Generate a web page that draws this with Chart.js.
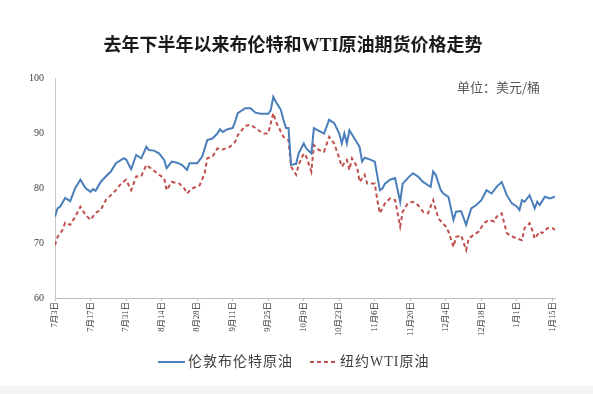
<!DOCTYPE html>
<html>
<head>
<meta charset="utf-8">
<script src="https://cdn.jsdelivr.net/npm/chart.js@4.4.1/dist/chart.umd.min.js"></script>
<style>
  html, body { margin: 0; padding: 0; }
  body { width: 593px; height: 394px; overflow: hidden;
         background: linear-gradient(to bottom, #ffffff 0px, #ffffff 386px, #f3f3f3 386px, #f3f3f3 394px); }
  #wrap { position: absolute; left: 0; top: 0; width: 593px; height: 394px; }
</style>
</head>
<body>
<div id="wrap"><canvas id="c" width="593" height="394"></canvas></div>
<script>
// ---- data (days counted from 7月3日) ----
const titleText = '去年下半年以来布伦特和WTI原油期货价格走势';
const unitText = '单位：美元/桶';
const seriesNames = ['伦敦布伦特原油', '纽约WTI原油'];

const tickLabels = ['7月3日','7月17日','7月31日','8月14日','8月28日','9月11日','9月25日','10月9日','10月23日','11月6日','11月20日','12月4日','12月18日','1月1日','1月15日'];
const tickDays = [0,14,28,42,56,70,84,98,112,126,140,154,168,182,196];
const lastDay = 197;

const brentDays = [0,1,2,4,6,8,10,12,14,15,16,18,20,22,24,27,28,30,32,34,36,37,39,41,43,44,46,48,50,52,53,56,58,60,62,64,65,66,68,70,71,72,75,77,79,81,84,85,86,87,89,90,91,92,93,95,96,98,99,101,102,104,106,108,110,112,113,114,115,116,118,120,121,122,124,126,128,129,130,132,134,136,137,139,141,143,145,147,148,149,150,152,153,155,157,158,160,162,164,166,168,170,172,174,176,178,180,182,183,184,185,187,188,189,190,191,193,195,197];
const brentPrices = [74.8,76.3,76.6,78.2,77.6,80.0,81.5,80.0,79.3,79.8,79.5,81.1,82.1,83.0,84.5,85.4,85.2,83.4,86.0,85.4,87.5,86.9,86.8,86.3,85.1,83.6,84.8,84.6,84.2,83.3,84.5,84.5,85.7,88.7,89.0,89.9,90.7,90.2,90.7,90.9,92.1,93.6,94.5,94.5,93.7,93.5,93.5,94.1,96.6,95.7,94.2,92.4,90.9,90.9,84.2,84.4,86.3,88.1,87.2,86.3,90.9,90.4,89.9,92.4,91.8,89.9,88.1,89.9,88.1,90.5,89.0,87.5,84.8,85.5,85.2,84.8,79.6,79.9,80.8,81.5,81.8,77.5,80.8,81.8,82.7,82.1,81.1,80.5,80.2,83.0,82.4,79.6,79.0,78.4,74.2,75.7,75.8,73.3,76.3,76.9,77.8,79.6,79.0,80.2,81.1,78.7,77.2,76.6,76.0,77.8,77.5,78.7,77.5,76.3,77.5,76.9,78.4,78.1,78.4];

const wtiDays = [0,1,3,4,6,8,10,12,14,16,18,20,22,24,26,28,30,32,34,36,38,41,43,44,46,49,51,52,54,57,59,60,62,64,66,69,71,72,75,77,79,82,84,86,87,90,92,93,95,96,98,99,101,102,104,106,108,110,112,113,115,116,117,119,120,122,123,126,127,128,130,132,134,136,137,139,141,143,145,147,149,151,154,155,157,158,160,162,163,165,167,169,171,173,174,176,178,180,182,184,185,187,188,189,191,192,194,196,197];
const wtiPrices = [69.6,71.1,72.4,73.7,73.3,74.8,76.6,75.1,74.2,75.5,76.0,77.8,78.7,79.6,80.8,81.5,79.6,82.1,82.2,84.2,83.5,82.4,81.8,79.6,81.1,80.8,79.9,79.0,79.9,80.5,82.7,85.4,85.7,87.2,87.0,87.5,88.4,89.6,91.3,91.5,90.9,89.9,89.9,93.6,92.1,89.3,88.7,83.9,82.4,84.2,86.3,85.7,83.0,87.8,86.9,86.6,89.3,88.1,85.4,83.9,85.1,83.3,85.4,83.9,81.1,82.4,80.8,80.8,77.8,75.4,77.2,78.1,77.8,73.0,75.7,77.2,77.5,76.9,75.7,75.4,77.8,74.5,73.0,72.1,69.3,71.1,71.4,68.7,70.8,71.5,72.1,73.6,74.2,73.9,74.8,75.4,71.8,71.2,70.8,70.5,72.7,73.6,72.4,70.8,72.1,71.8,72.7,72.7,72.4];

const yTicks = [60, 70, 80, 90, 100];

// ---- chart ----
const serifCJK = "'Liberation Serif', 'Noto Sans CJK SC', serif";
const sansCJK = "'Noto Sans CJK SC', sans-serif";

const overlay = {
  id: 'overlay',
  afterDraw(chart) {
    const ctx = chart.ctx;
    ctx.save();
    // title
    ctx.fillStyle = '#1a1a1a';
    ctx.font = "bold 18px " + serifCJK;
    ctx.textAlign = 'center';
    ctx.textBaseline = 'middle';
    ctx.fillText(titleText, 293, 46);
    // unit
    ctx.fillStyle = '#595959';
    ctx.font = "13px " + sansCJK;
    ctx.textAlign = 'right';
    ctx.fillText(unitText, 540, 87);
    // legend
    const items = [{x0: 158, tx: 188}, {x0: 310, tx: 340}];
    const ly = 362;
    chart.data.datasets.forEach((ds, i) => {
      const it = items[i];
      ctx.strokeStyle = ds.borderColor;
      ctx.lineWidth = 2;
      ctx.setLineDash(ds.borderDash || []);
      ctx.beginPath();
      ctx.moveTo(it.x0, ly);
      ctx.lineTo(it.x0 + 27, ly);
      ctx.stroke();
      ctx.setLineDash([]);
      ctx.fillStyle = '#404040';
      ctx.font = "14px " + serifCJK;
      ctx.textAlign = 'left';
      ctx.letterSpacing = '1px';
      ctx.fillText(ds.label, it.tx, ly);
      ctx.letterSpacing = '0px';
    });
    ctx.restore();
  }
};

new Chart(document.getElementById('c'), {
  type: 'line',
  data: {
    datasets: [
      {
        label: seriesNames[0],
        data: brentDays.map((d, i) => ({x: d, y: brentPrices[i]})),
        borderColor: '#4a7ebb',
        borderWidth: 2,
        pointRadius: 0,
        tension: 0,
        fill: false
      },
      {
        label: seriesNames[1],
        data: wtiDays.map((d, i) => ({x: d, y: wtiPrices[i]})),
        borderColor: '#c0504d',
        borderWidth: 2,
        borderDash: [4, 3],
        pointRadius: 0,
        tension: 0,
        fill: false
      }
    ]
  },
  options: {
    responsive: false,
    animation: false,
    events: [],
    layout: { padding: { left: 0, right: 38, top: 78, bottom: 0 } },
    plugins: { legend: { display: false }, title: { display: false }, tooltip: { enabled: false } },
    scales: {
      x: {
        type: 'linear',
        min: 0,
        max: lastDay,
        afterBuildTicks(scale) { scale.ticks = tickDays.map(v => ({value: v})); },
        afterFit(scale) { scale.height = 96; },
        grid: { drawOnChartArea: false, drawTicks: true, tickLength: 3, color: '#bfbfbf' },
        border: { display: true, color: '#bfbfbf', width: 1 },
        ticks: {
          autoSkip: false,
          minRotation: 90,
          maxRotation: 90,
          padding: 1,
          color: '#333333',
          font: { family: serifCJK, size: 8.5 },
          callback: (v) => { const k = tickDays.indexOf(v); return k >= 0 ? tickLabels[k] : ''; }
        }
      },
      y: {
        min: 60,
        max: 100,
        afterBuildTicks(scale) { scale.ticks = yTicks.map(v => ({value: v})); },
        afterFit(scale) { scale.width = 55; },
        grid: { drawOnChartArea: false, drawTicks: false },
        border: { display: true, color: '#c8c8c8', width: 1 },
        ticks: {
          padding: 11,
          color: '#404040',
          font: { family: serifCJK, size: 10 }
        }
      }
    }
  },
  plugins: [overlay]
});
</script>
</body>
</html>
